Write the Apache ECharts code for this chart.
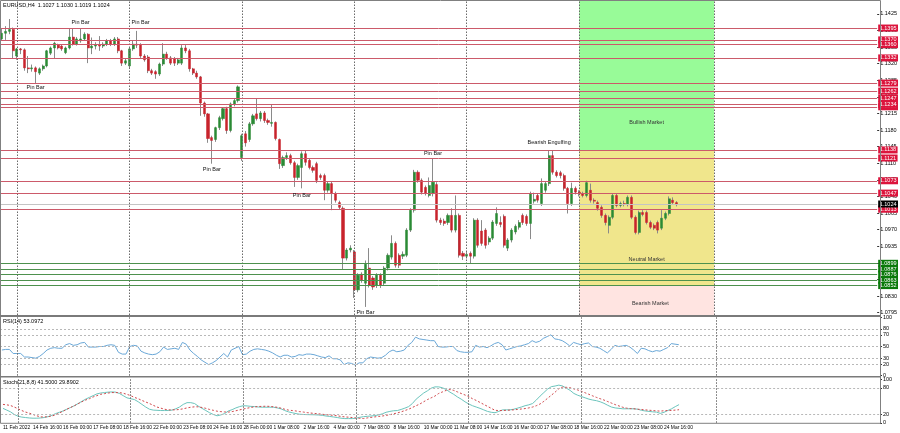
<!DOCTYPE html>
<html><head><meta charset="utf-8">
<script src="https://cdn.jsdelivr.net/npm/echarts@6/dist/echarts.min.js"></script>
<style>html,body{margin:0;padding:0;background:#fff}#c{width:900px;height:433px}</style>
</head><body><div id="c"></div><script>
// ---------- DATA (EURUSD H4) ----------
const symbolTitle = 'EURUSD,H4  1.1027 1.1030 1.1019 1.1024';
const rsiTitle = 'RSI(14) 53.0972';
const stochTitle = 'Stoch(21,8,8) 41.5000 29.8902';

const opens = [
1.1372,1.1384,1.1388,1.1392,1.1336,1.1351,1.1349,1.1311,1.1309,1.1311,
1.1300,1.1309,1.1315,1.1342,1.1353,1.1359,1.1357,1.1343,1.1353,1.1376,
1.1361,1.1368,1.1372,1.1382,1.1353,1.1357,1.1359,1.1357,1.1361,1.1368,
1.1361,1.1372,1.1347,1.1321,1.1315,1.1351,1.1361,1.1359,1.1336,1.1334,
1.1305,1.1303,1.1298,1.1319,1.1340,1.1332,1.1330,1.1321,1.1321,1.1353,
1.1347,1.1309,1.1300,1.1292,1.1237,1.1214,1.1164,1.1160,1.1185,1.1204,
1.1225,1.1179,1.1235,1.1242,1.1122,1.1172,1.1160,1.1193,1.1214,1.1204,
1.1216,1.1200,1.1194,1.1196,1.1160,1.1105,1.1122,1.1126,1.1111,1.1080,
1.1101,1.1130,1.1116,1.1101,1.1109,1.1084,1.1084,1.1053,1.1067,1.1046,
1.1027,1.1015,1.0910,1.0927,1.0923,1.0843,1.0876,1.0857,1.0889,1.0868,
1.0853,1.0874,1.0857,1.0889,1.0912,1.0941,1.0916,1.0914,1.0916,1.0969,
1.1011,1.1091,1.1074,1.1059,1.1042,1.1046,1.1065,1.0990,1.0988,1.0985,
1.1000,1.0969,1.1000,1.0920,1.0914,1.0920,1.0914,1.0990,1.0967,1.0969,
1.0944,1.0952,1.0983,1.0985,1.0998,1.0931,1.0948,1.0965,1.0975,1.1000,
1.0998,1.0983,1.1030,1.1042,1.1025,1.1053,1.1067,1.1126,1.1091,1.1090,
1.1084,1.1057,1.1025,1.1057,1.1049,1.1046,1.1042,1.1053,1.1032,1.1027,
1.1017,1.1000,1.0979,1.0996,1.1042,1.1021,1.1025,1.1023,1.1038,1.0996,
1.0964,1.1006,1.1006,1.0985,1.0979,1.0985,1.0973,1.0994,1.1004,1.1032,
1.1027];
const closes = [
1.1384,1.1388,1.1392,1.1347,1.1351,1.1349,1.1311,1.1309,1.1311,1.1303,
1.1309,1.1315,1.1347,1.1353,1.1363,1.1353,1.1351,1.1353,1.1376,1.1361,
1.1372,1.1372,1.1382,1.1353,1.1357,1.1359,1.1357,1.1361,1.1368,1.1361,
1.1372,1.1347,1.1321,1.1326,1.1351,1.1361,1.1359,1.1336,1.1328,1.1305,
1.1300,1.1298,1.1319,1.1340,1.1332,1.1321,1.1321,1.1328,1.1353,1.1347,
1.1309,1.1300,1.1292,1.1237,1.1214,1.1162,1.1158,1.1185,1.1206,1.1225,
1.1179,1.1235,1.1242,1.1271,1.1168,1.1153,1.1193,1.1210,1.1204,1.1216,
1.1200,1.1196,1.1196,1.1162,1.1109,1.1122,1.1126,1.1111,1.1080,1.1105,
1.1130,1.1112,1.1101,1.1095,1.1074,1.1080,1.1053,1.1067,1.1046,1.1032,
1.1017,1.0910,1.0927,1.0931,1.0843,1.0874,1.0864,1.0897,1.0853,1.0849,
1.0874,1.0853,1.0889,1.0916,1.0941,1.0895,1.0895,1.0918,1.0969,1.1011,
1.1091,1.1074,1.1049,1.1046,1.1063,1.1070,1.0990,1.0985,1.0983,1.1000,
1.0969,1.1000,1.0916,1.0914,1.0918,1.0914,1.0990,1.0937,1.0941,1.0937,
1.0952,1.0986,1.1004,1.0981,1.0937,1.0948,1.0969,1.0977,1.0985,1.0985,
1.0983,1.1046,1.1034,1.1032,1.1067,1.1067,1.1126,1.1091,1.1084,1.1084,
1.1057,1.1025,1.1057,1.1049,1.1046,1.1042,1.1069,1.1032,1.1030,1.1015,
1.1000,1.0985,1.0996,1.1042,1.1021,1.1025,1.1023,1.1038,1.0996,1.0964,
1.1006,1.1002,1.0985,1.0975,1.0973,1.0969,1.0994,1.1004,1.1035,1.1027,
1.1024];
const lows = [
1.1368,1.1370,1.1382,1.1330,1.1328,1.1340,1.1305,1.1300,1.1303,1.1279,
1.1296,1.1305,1.1312,1.1338,1.1330,1.1350,1.1347,1.1340,1.1350,1.1358,
1.1358,1.1364,1.1368,1.1321,1.1340,1.1350,1.1347,1.1353,1.1357,1.1357,
1.1357,1.1342,1.1315,1.1317,1.1310,1.1347,1.1353,1.1332,1.1324,1.1300,
1.1296,1.1288,1.1294,1.1315,1.1328,1.1317,1.1315,1.1317,1.1317,1.1342,
1.1303,1.1296,1.1288,1.1210,1.1208,1.1153,1.1109,1.1155,1.1180,1.1200,
1.1172,1.1175,1.1230,1.1238,1.1115,1.1145,1.1155,1.1189,1.1200,1.1198,
1.1195,1.1191,1.1187,1.1158,1.1098,1.1100,1.1117,1.1107,1.1060,1.1075,
1.1057,1.1105,1.1097,1.1090,1.1068,1.1075,1.1032,1.1048,1.1011,1.1027,
1.1013,1.0885,1.0905,1.0922,1.0826,1.0838,1.0858,1.0807,1.0848,1.0843,
1.0847,1.0847,1.0853,1.0884,1.0907,1.0890,1.0889,1.0908,1.0912,1.0965,
1.1006,1.1069,1.1044,1.1042,1.1038,1.1040,1.0985,1.0980,1.0978,1.0980,
1.0964,1.0964,1.0911,1.0906,1.0909,1.0899,1.0909,1.0932,1.0936,1.0930,
1.0938,1.0948,1.0978,1.0975,1.0932,1.0925,1.0943,1.0960,1.0970,1.0980,
1.0978,1.0950,1.1025,1.1027,1.1020,1.1048,1.1062,1.1086,1.1080,1.1078,
1.1052,1.1004,1.1020,1.1044,1.1040,1.1038,1.1038,1.1027,1.1025,1.1010,
1.0995,1.0979,1.0962,1.0992,1.1017,1.1017,1.1019,1.1019,1.0992,1.0960,
1.0960,1.0998,1.0981,1.0971,1.0969,1.0962,1.0969,1.0990,1.1000,1.1023,
1.1019];
const highs = [
1.1393,1.1399,1.1414,1.1396,1.1353,1.1353,1.1352,1.1336,1.1318,1.1314,
1.1312,1.1318,1.1349,1.1356,1.1366,1.1362,1.1360,1.1356,1.1393,1.1395,
1.1376,1.1395,1.1386,1.1384,1.1375,1.1365,1.1378,1.1365,1.1372,1.1372,
1.1376,1.1376,1.1349,1.1330,1.1355,1.1368,1.1389,1.1363,1.1340,1.1338,
1.1309,1.1306,1.1322,1.1363,1.1345,1.1336,1.1334,1.1332,1.1359,1.1359,
1.1351,1.1311,1.1305,1.1294,1.1240,1.1216,1.1168,1.1187,1.1210,1.1228,
1.1229,1.1238,1.1246,1.1274,1.1172,1.1178,1.1197,1.1214,1.1246,1.1220,
1.1220,1.1204,1.1233,1.1198,1.1162,1.1126,1.1133,1.1130,1.1115,1.1109,
1.1135,1.1136,1.1120,1.1105,1.1113,1.1088,1.1088,1.1072,1.1071,1.1050,
1.1031,1.1019,1.0931,1.0937,1.0927,1.0878,1.0880,1.0905,1.0931,1.0872,
1.0878,1.0878,1.0893,1.0920,1.0958,1.0945,1.0920,1.0924,1.0973,1.1015,
1.1096,1.1095,1.1078,1.1063,1.1080,1.1121,1.1070,1.0995,1.0993,1.1004,
1.1015,1.1042,1.1004,1.0925,1.0923,1.0924,1.0994,1.0994,1.0990,1.0973,
1.0956,1.0990,1.1017,1.0998,1.1002,1.0952,1.0973,1.0981,1.0990,1.1004,
1.1002,1.1050,1.1048,1.1046,1.1078,1.1072,1.1137,1.1137,1.1095,1.1094,
1.1088,1.1060,1.1069,1.1061,1.1053,1.1050,1.1073,1.1067,1.1036,1.1031,
1.1021,1.1004,1.1000,1.1046,1.1046,1.1029,1.1031,1.1042,1.1042,1.1000,
1.1010,1.1011,1.1010,1.0989,1.0983,1.0989,1.1011,1.1008,1.1040,1.1038,
1.1030];

const rsiValues = [
44,45,45,38,38,38,32,32,31,30,
33,38,44,47,48,47,47,53,55,52,
53,56,57,49,49,49,50,50,52,53,
52,40,37,37,50,52,51,42,39,37,
36,37,41,49,45,46,47,45,57,54,
44,38,33,27,23,19,22,26,32,38,
32,44,47,50,36,37,42,45,46,45,
44,42,39,35,32,35,35,32,33,36,
35,37,37,36,34,32,31,34,29,29,
27,19,22,21,18,22,22,29,32,31,
30,31,35,41,44,41,42,44,52,57,
66,63,62,61,60,60,50,49,49,50,
50,43,41,40,40,41,52,49,50,48,
51,55,57,53,44,46,48,50,51,53,
55,60,57,59,64,67,70,63,62,60,
56,51,57,55,53,55,56,50,49,47,
43,39,45,52,50,51,52,49,44,38,
47,46,43,41,43,42,45,48,55,54,
53.1];
const stochMain = [
33,29,25,19,15,13,12,11,10.5,10.5,
11,12,14,17,21,24,27,31,35,39,
44,49,54,58,62,66,68,69,70,70.5,
70,67,62,57,55,53,48,42,36,31,
29,28.5,28,28,28,29,32,36,42,46,
46,44,38,33,28,23,19,16,18,21,
27,30,34,37,39,38.5,37.5,37,36,35.6,
35.6,35.6,35.6,34,32,28,25,23,21,19.5,
19,18.7,18.5,18.3,17.8,17,15.5,14.5,13.3,12,
10.5,9.6,9.6,9.6,10.5,12.5,14,14.8,15.5,16.5,
18,20.5,24,26,27.5,28,30.5,33.5,37,44,
54,61,68,73,79,82,82,80,76,70,
65,59,54,48,43,39,36,33,29.5,26,
24,23,26,29.5,29.6,29.6,31,33.5,36,39,
41,44,52,61,69,77,82.5,84,86,84,
79,74,67,63,60,57,54,52,50.5,48,
44.5,40,36,34,33,32,32,32,32,31,
28.5,27,26,25,24.4,21.5,24,28,32,37,
41.5];
const stochSignal = [
42,41,39.5,36,32,28,24.5,22,19,16,
13.5,13.3,14,15.5,18,22.5,26.5,31,35,39,
43.5,48,52,55,59,62,65,66.5,68,69,
69,68.9,67.5,65,62,58,55,51,47.5,44,
40,36,33.5,31,29.5,29.5,29.6,30.5,32,34,
35.5,36.5,36.5,35,33,30.5,28.5,26.5,25.5,24.8,
24.5,25.5,27.5,29.5,31.5,33.3,35,36.5,37.2,37.5,
37.8,37.5,36.5,35.5,33.5,31,29,28,27,25.5,
24.5,23.2,22.2,21.3,20.5,19.5,18.5,17.8,17,16,
14.5,13.5,12.8,12,11,10.2,9.7,11.2,12.3,13.5,
14.5,15.5,17,18.5,20.5,22.5,25,28,31,35,
39,43,48,53,57,61,67,70.5,74,76,
74,70.5,67,63.5,60,55,51,46.5,42,37.5,
33,28.5,28,28,28.5,29,29.6,30.5,31.5,32.5,
34,36,39,43,49,56,63,70,78,81.5,
81,80,77.5,75,72,68.5,65,61.5,58,55,
52,48.5,45,41.5,38.5,35.5,33.5,32.5,32,31,
30.4,29.5,28.7,28,27.2,26.7,27.5,28.1,28.3,29,
29.89];

// x-axis: one slot per H4 bar (incl. empty future slots); a label every 8 bars
const slotCount = 234;
const tickLabels = ['11 Feb 2022','14 Feb 16:00','16 Feb 00:00','17 Feb 08:00','18 Feb 16:00','22 Feb 00:00','23 Feb 08:00','24 Feb 16:00','28 Feb 00:00','1 Mar 08:00','2 Mar 16:00','4 Mar 00:00','7 Mar 08:00','8 Mar 16:00','10 Mar 00:00','11 Mar 08:00','14 Mar 16:00','16 Mar 00:00','17 Mar 08:00','18 Mar 16:00','22 Mar 00:00','23 Mar 08:00','24 Mar 16:00'];
const tickStep = 8;
const weekSeparators = [4, 34, 64, 94, 124, 154];
const verticalLine = 190;

// price axis
const priceMin = 1.0790, priceMax = 1.1452;
const priceTicks = [1.0795,1.0830,1.0865,1.0900,1.0935,1.0970,1.1005,1.1040,1.1075,1.1110,1.1145,1.1180,1.1215,1.1250,1.1285,1.1320,1.1355,1.1390,1.1425];
const rsiTicks = [0,20,30,50,70,80,100];
const rsiLevels = [20,30,50,70,80];
const stochTicks = [0,20,80,100];
const stochLevels = [20,80];

// horizontal levels
const redLevels = [1.1395,1.1370,1.1360,1.1332,1.1279,1.1262,1.1247,1.1229,1.1234,1.1138,1.1121,1.1073,1.1047,1.1013];
const greenLevels = [1.0899,1.0887,1.0876,1.0863,1.0852];
const currentPrice = 1.1024;

// market zones (bar index range, price range)
const zoneNames = ['Bullish Market','Neutral Market','Bearish Market'];
const zoneStart = 154, zoneEnd = 190;
const zoneTop = [1.1452, 1.1138, 1.0852];
const zoneBottom = [1.1138, 1.0852, 1.0790];
const zoneLabelIdx = [172, 172, 173];
const zoneLabelPrice = [1.1195, 1.0907, 1.0815];

// pattern annotations
const patternText = ['Pin Bar','Pin Bar','Pin Bar','Pin Bar','Pin Bar','Pin Bar','Pin Bar','Bearish Engulfing'];
const patternIdx = [21, 37, 9, 56, 80, 115, 97, 146];
const patternPrice = [1.1407, 1.1406, 1.1269, 1.1096, 1.1043, 1.1130, 1.0796, 1.1153];

// ---------- CHART ----------
const FONT = 'Liberation Sans, Arial, sans-serif';
const cats = Array.from({length: slotCount}, (_, i) => String(i));
const wickData = opens.map((o, i) => [o, closes[i], lows[i], highs[i]]);
const bodyData = opens.map((o, i) => [o, closes[i], Math.min(o, closes[i]), Math.max(o, closes[i])]);

const sepStyle = {color: '#6a6a6a', type: [1.5, 1.5], width: 1};
function vLines() {
  return weekSeparators.concat([verticalLine]).map(v => ({xAxis: v}));
}
function tag(bg) {
  return {show: true, position: 'end', distance: 1, formatter: p => Number(p.value).toFixed(4),
    backgroundColor: bg, color: '#fff', fontSize: 5.5, lineHeight: 6, padding: [0.5, 1.5, 0.5, 1.5], fontFamily: FONT};
}
function levelSeries(levels, lineColor, tagColor) {
  return {
    type: 'line', xAxisIndex: 0, yAxisIndex: 0, data: [], z: 2, silent: true,
    color: lineColor,
    markLine: {silent: true, symbol: ['none', 'none'], animation: false, precision: 4,
      lineStyle: {color: lineColor, width: 1, type: 'solid', opacity: 1},
      label: tag(tagColor),
      emphasis: {disabled: true},
      data: levels.map(v => ({yAxis: v}))}
  };
}

const chart = echarts.init(document.getElementById('c'), null, {renderer: 'canvas'});
const gridCommon = {left: 0, right: 20, show: false};
const option = {
  animation: false,
  backgroundColor: '#fff',
  textStyle: {fontFamily: FONT},
  grid: [
    Object.assign({top: 1, height: 314}, gridCommon),
    Object.assign({top: 317.3, height: 58.4}, gridCommon),
    Object.assign({top: 379, height: 43.8}, gridCommon)
  ],
  xAxis: [0, 1, 2].map(g => ({
    type: 'category', gridIndex: g, data: cats, boundaryGap: true,
    axisLine: {show: false}, axisTick: {show: false}, splitLine: {show: false},
    axisLabel: g === 2 ? {
      show: true, showMinLabel: true, showMaxLabel: true, hideOverlap: false,
      interval: (i) => i % tickStep === 0 && i / tickStep < tickLabels.length,
      formatter: (v) => tickLabels[Math.round(Number(v) / tickStep)] || '',
      align: 'left', fontSize: 4.9, margin: 2.5, color: '#000', fontFamily: FONT
    } : {show: false}
  })),
  yAxis: [
    {gridIndex: 0, type: 'value', position: 'right', min: priceMin, max: priceMax, scale: true,
      axisLine: {show: false}, splitLine: {show: false},
      axisTick: {show: true, length: 2, customValues: priceTicks, lineStyle: {color: '#333'}},
      axisLabel: {customValues: priceTicks, formatter: v => Number(v).toFixed(4), fontSize: 5.5, margin: 3, color: '#000', fontFamily: FONT}},
    {gridIndex: 1, type: 'value', position: 'right', min: 0, max: 100,
      axisLine: {show: false}, splitLine: {show: false},
      axisTick: {show: true, length: 2, customValues: rsiTicks, lineStyle: {color: '#333'}},
      axisLabel: {customValues: rsiTicks, fontSize: 5.5, margin: 3, color: '#000', fontFamily: FONT}},
    {gridIndex: 2, type: 'value', position: 'right', min: 0, max: 100,
      axisLine: {show: false}, splitLine: {show: false},
      axisTick: {show: true, length: 2, customValues: stochTicks, lineStyle: {color: '#333'}},
      axisLabel: {customValues: stochTicks, fontSize: 5.5, margin: 3, color: '#000', fontFamily: FONT}}
  ],
  series: [
    { // zones
      type: 'line', xAxisIndex: 0, yAxisIndex: 0, data: [], z: 1, silent: true,
      markArea: {silent: true, data: zoneNames.map((n, k) => [
        {xAxis: zoneStart, yAxis: zoneTop[k], itemStyle: {color: ['#98fb98', '#f0e68c', '#ffe4e1'][k], opacity: 1}},
        {xAxis: zoneEnd, yAxis: zoneBottom[k]}
      ])}
    },
    { // week separators
      type: 'line', xAxisIndex: 0, yAxisIndex: 0, data: [], z: 2, silent: true,
      markLine: {silent: true, symbol: ['none', 'none'], label: {show: false}, lineStyle: sepStyle, data: vLines()}
    },
    levelSeries(redLevels, '#cc5a6a', '#dc143c'),
    levelSeries(greenLevels, '#4e914e', '#0b7a0b'),
    levelSeries([currentPrice], '#c4c4c4', '#000000'),
    { // wicks
      type: 'candlestick', xAxisIndex: 0, yAxisIndex: 0, data: wickData, z: 3, barWidth: 1,
      itemStyle: {color: '#8a8a8a', color0: '#8a8a8a', borderColor: '#8a8a8a', borderColor0: '#8a8a8a', borderWidth: 1}
    },
    { // bodies
      type: 'candlestick', xAxisIndex: 0, yAxisIndex: 0, data: bodyData, z: 4, barWidth: 2.6,
      itemStyle: {color: '#2a8a35', color0: '#c8232c', borderColor: '#2a8a35', borderColor0: '#c8232c', borderWidth: 0.5}
    },
    { // annotations
      type: 'line', xAxisIndex: 0, yAxisIndex: 0, data: [], z: 5, silent: true,
      markPoint: {silent: true, symbol: 'circle', symbolSize: 0,
        label: {show: true, position: 'inside', color: '#111', fontSize: 5.5, fontFamily: FONT},
        data: patternText.map((t, k) => ({coord: [patternIdx[k], patternPrice[k]], value: t, label: {formatter: t}}))
          .concat(zoneNames.map((t, k) => ({coord: [zoneLabelIdx[k], zoneLabelPrice[k]], value: t, label: {formatter: t, color: '#333'}})))}
    },
    { // RSI
      type: 'line', xAxisIndex: 1, yAxisIndex: 1, data: rsiValues, showSymbol: false, z: 3,
      lineStyle: {color: '#6aa8d8', width: 1}, itemStyle: {color: '#6aa8d8'},
      markLine: {silent: true, symbol: ['none', 'none'], label: {show: false},
        data: rsiLevels.map(v => ({yAxis: v, lineStyle: {color: '#b8b8b8', type: [2, 2], width: 1}}))
          .concat(vLines().map(d => Object.assign(d, {lineStyle: sepStyle})))}
    },
    { // Stoch main
      type: 'line', xAxisIndex: 2, yAxisIndex: 2, data: stochMain, showSymbol: false, z: 3,
      lineStyle: {color: '#6cc5bd', width: 1}, itemStyle: {color: '#6cc5bd'},
      markLine: {silent: true, symbol: ['none', 'none'], label: {show: false},
        data: stochLevels.map(v => ({yAxis: v, lineStyle: {color: '#b8b8b8', type: [2, 2], width: 1}}))
          .concat(vLines().map(d => Object.assign(d, {lineStyle: sepStyle})))}
    },
    { // Stoch signal
      type: 'line', xAxisIndex: 2, yAxisIndex: 2, data: stochSignal, showSymbol: false, z: 3,
      lineStyle: {color: '#d0484c', width: 1, type: [2, 2]}, itemStyle: {color: '#d0484c'}
    }
  ],
  graphic: [
    {type: 'rect', shape: {x: 0.5, y: 0.5, width: 880, height: 422.8}, style: {fill: 'none', stroke: '#808080', lineWidth: 1}, z: 50, silent: true},
    {type: 'rect', shape: {x: 0, y: 315, width: 881, height: 2}, style: {fill: '#7a7a7a'}, z: 50, silent: true},
    {type: 'rect', shape: {x: 0, y: 376, width: 881, height: 1.6}, style: {fill: '#7a7a7a'}, z: 50, silent: true},
    {type: 'text', left: 3, top: 2.5, style: {text: symbolTitle, fontSize: 5.5, fill: '#000', fontFamily: FONT}, z: 60, silent: true},
    {type: 'text', left: 3, top: 318.5, style: {text: rsiTitle, fontSize: 5.5, fill: '#000', fontFamily: FONT}, z: 60, silent: true},
    {type: 'text', left: 3, top: 379.5, style: {text: stochTitle, fontSize: 5.5, fill: '#000', fontFamily: FONT}, z: 60, silent: true}
  ]
};
chart.setOption(option);
</script></body></html>
